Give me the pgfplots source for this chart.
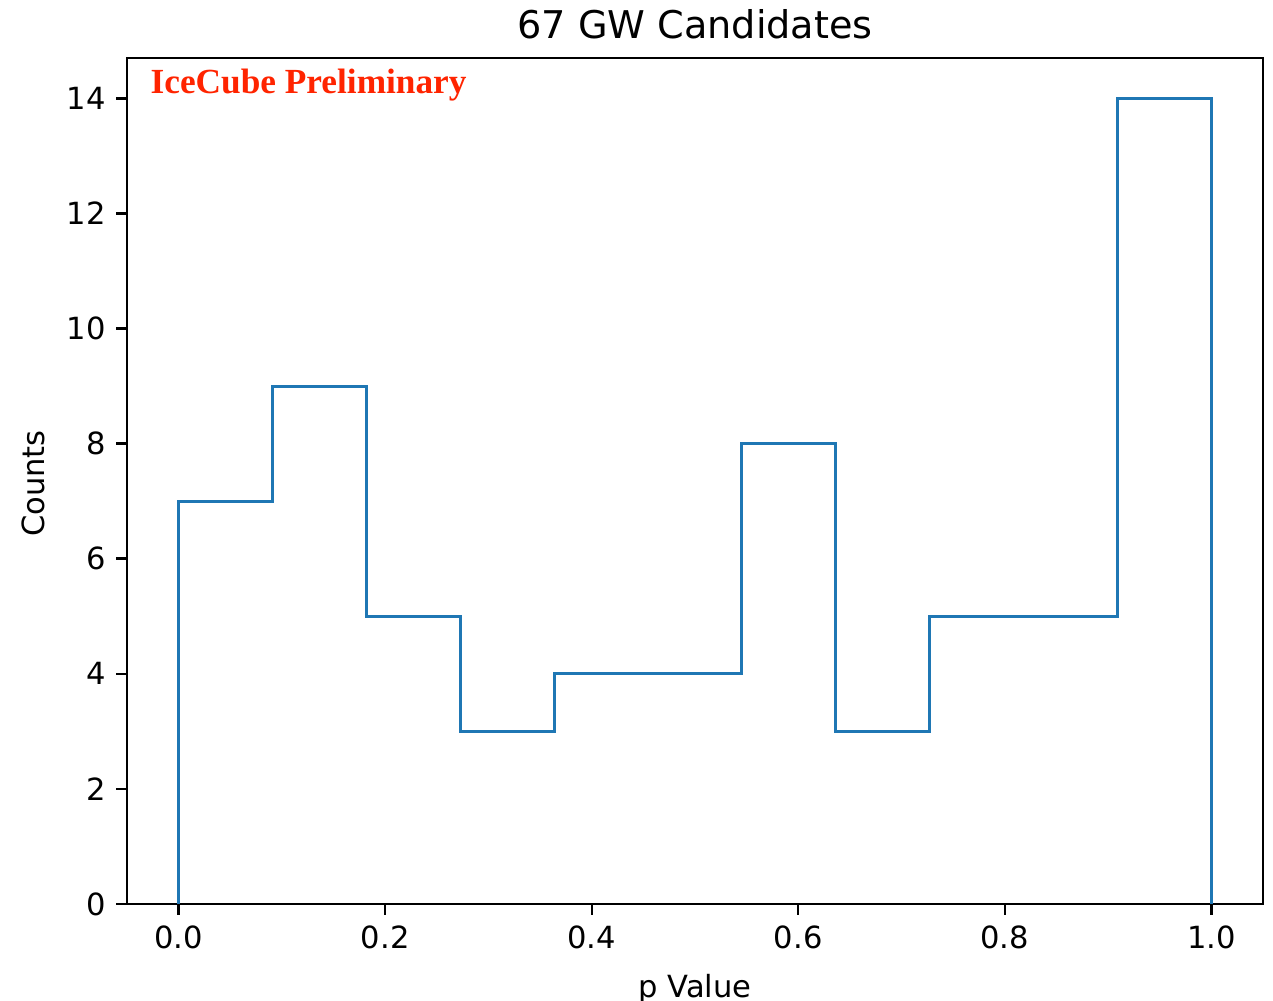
\documentclass[border=0pt]{standalone}
\usepackage{pgfplots}
\pgfplotsset{compat=1.18}
\usepackage{fontspec}
\setmainfont{DejaVu Sans}
\newfontfamily\serifbold{Liberation Serif}
\definecolor{mplblue}{HTML}{1F77B4}
\definecolor{icered}{RGB}{255,36,0}
\begin{document}
\begin{tikzpicture}
\begin{axis}[
  name=ax,
  scale only axis,
  width=371.8pt, height=276.9pt,
  xmin=-0.05, xmax=1.05, ymin=0, ymax=14.7,
  axis line style={line width=0.8pt},
  tick style={line width=0.8pt, black},
  tick align=outside,
  major tick length=3.5pt,
  xtick={0,0.2,0.4,0.6,0.8,1.0},
  ytick={0,2,4,6,8,10,12,14},
  xtick pos=bottom, ytick pos=left,
  /pgf/number format/assume math mode=true,
  xticklabel style={/pgf/number format/.cd, fixed, precision=1, zerofill},
  ticklabel style={font=\fontsize{10}{12}\selectfont},
  clip=false,
]
\addplot[const plot, mplblue, line width=1pt] coordinates {
  (0,0) (0,7) (0.090909,9) (0.181818,5) (0.272727,3) (0.363636,4)
  (0.454545,4) (0.545455,8) (0.636364,3) (0.727273,5) (0.818182,5)
  (0.909091,14) (1,0)
};
\node[anchor=base west, inner sep=0pt, text=icered, font=\serifbold\bfseries\fontsize{11.55}{13}\selectfont]
  at (rel axis cs:0.0202,0.9586) {IceCube Preliminary};
\end{axis}
\node[anchor=base, inner sep=0pt, font=\fontsize{12.5}{14}\selectfont]
  at ([yshift=6.5pt]ax.north) {67 GW Candidates};
\node[anchor=north, inner sep=0pt, font=\fontsize{10}{12}\selectfont]
  at ([yshift=-22.8pt]ax.south) {p Value};
\node[anchor=south, rotate=90, inner sep=0pt, font=\fontsize{10}{12}\selectfont]
  at ([xshift=-26.8pt,yshift=-0.8pt]ax.west) {Counts};
\pgfresetboundingbox
\useasboundingbox ([shift={(-41.6pt,-31.7pt)}]ax.south west) rectangle ([shift={(3.3pt,19pt)}]ax.north east);
\end{tikzpicture}
\end{document}
